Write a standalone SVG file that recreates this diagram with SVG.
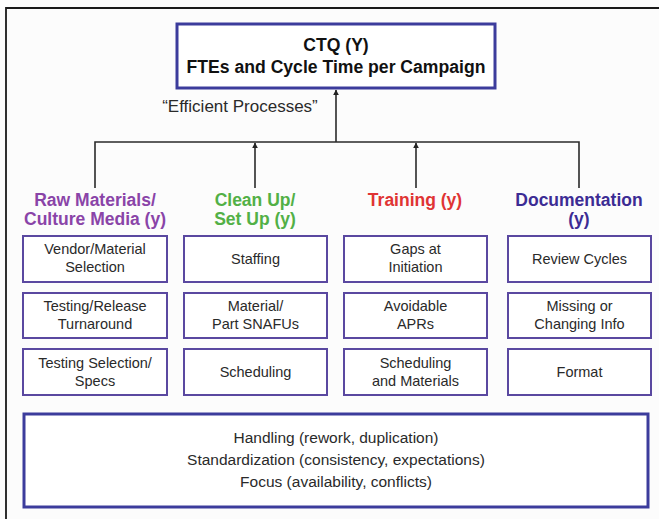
<svg xmlns="http://www.w3.org/2000/svg" width="659" height="519" viewBox="0 0 659 519">
<defs>
<marker id="ah" viewBox="0 0 10 10" refX="9" refY="5" markerWidth="6" markerHeight="7" markerUnits="userSpaceOnUse" orient="auto">
<path d="M0,0 L10,5 L0,10 z" fill="#222"/>
</marker>
<style>
.big{fill:#fff;stroke:#3c3c9c;stroke-width:3}
.sm{fill:#fff;stroke:#5a48a0;stroke-width:2}
.t{font-family:"Liberation Sans",Arial,sans-serif;text-anchor:middle;fill:#2a2a2a}
.st{font-size:14.5px}
.hd{font-size:17.5px;font-weight:bold}
.ln{stroke:#2a2a2a;stroke-width:1.6;fill:none}
</style>
</defs>
<rect x="0" y="0" width="659" height="519" fill="#fcfcfc"/>
<path d="M6,519 V8 H659" fill="none" stroke="#1a1a1a" stroke-width="1.8"/>

<g id="connectors">
<path class="ln" d="M95,188 V142 H579 V188"/>
<line class="ln" x1="336" y1="142" x2="336" y2="90" marker-end="url(#ah)"/>
<line class="ln" x1="255" y1="188" x2="255" y2="143" marker-end="url(#ah)"/>
<line class="ln" x1="416" y1="188" x2="416" y2="143" marker-end="url(#ah)"/>
</g>

<g id="ctq">
<rect class="big" x="177" y="24" width="318" height="64"/>
<text class="t" font-size="17.6" font-weight="bold" style="fill:#111"><tspan x="336" y="51">CTQ (Y)</tspan><tspan x="336" y="73">FTEs and Cycle Time per Campaign</tspan></text>
</g>
<g id="label-efficient">
<text class="t" font-size="17" x="240" y="112">“Efficient Processes”</text>
</g>

<g id="head-raw"><text class="t hd" style="fill:#8a44a8"><tspan x="95" y="206">Raw Materials/</tspan><tspan x="95" y="225">Culture Media (y)</tspan></text></g>
<g id="head-clean"><text class="t hd" style="fill:#52b046"><tspan x="255" y="206">Clean Up/</tspan><tspan x="255" y="225">Set Up (y)</tspan></text></g>
<g id="head-training"><text class="t hd" style="fill:#e03434"><tspan x="415" y="206">Training (y)</tspan></text></g>
<g id="head-doc"><text class="t hd" style="fill:#3c2c94"><tspan x="579" y="206">Documentation</tspan><tspan x="579" y="225">(y)</tspan></text></g>

<g id="raw-1"><rect class="sm" x="23" y="236" width="144" height="46"/><text class="t st"><tspan x="95" y="254">Vendor/Material</tspan><tspan x="95" y="272">Selection</tspan></text></g>
<g id="raw-2"><rect class="sm" x="23" y="293" width="144" height="45"/><text class="t st"><tspan x="95" y="311">Testing/Release</tspan><tspan x="95" y="329">Turnaround</tspan></text></g>
<g id="raw-3"><rect class="sm" x="23" y="349" width="144" height="46"/><text class="t st"><tspan x="95" y="368">Testing Selection/</tspan><tspan x="95" y="386">Specs</tspan></text></g>

<g id="clean-1"><rect class="sm" x="184" y="236" width="143" height="46"/><text class="t st" x="255.5" y="264">Staffing</text></g>
<g id="clean-2"><rect class="sm" x="184" y="293" width="143" height="45"/><text class="t st"><tspan x="255.5" y="311">Material/</tspan><tspan x="255.5" y="329">Part SNAFUs</tspan></text></g>
<g id="clean-3"><rect class="sm" x="184" y="349" width="143" height="46"/><text class="t st" x="255.5" y="377">Scheduling</text></g>

<g id="train-1"><rect class="sm" x="344" y="236" width="143" height="46"/><text class="t st"><tspan x="415.5" y="254">Gaps at</tspan><tspan x="415.5" y="272">Initiation</tspan></text></g>
<g id="train-2"><rect class="sm" x="344" y="293" width="143" height="45"/><text class="t st"><tspan x="415.5" y="311">Avoidable</tspan><tspan x="415.5" y="329">APRs</tspan></text></g>
<g id="train-3"><rect class="sm" x="344" y="349" width="143" height="46"/><text class="t st"><tspan x="415.5" y="368">Scheduling</tspan><tspan x="415.5" y="386">and Materials</tspan></text></g>

<g id="doc-1"><rect class="sm" x="508" y="236" width="143" height="46"/><text class="t st" x="579.5" y="264">Review Cycles</text></g>
<g id="doc-2"><rect class="sm" x="508" y="293" width="143" height="45"/><text class="t st"><tspan x="579.5" y="311">Missing or</tspan><tspan x="579.5" y="329">Changing Info</tspan></text></g>
<g id="doc-3"><rect class="sm" x="508" y="349" width="143" height="46"/><text class="t st" x="579.5" y="377">Format</text></g>

<g id="bottom">
<rect class="big" x="24" y="414" width="624" height="93"/>
<text class="t" font-size="15.5"><tspan x="336" y="443">Handling (rework, duplication)</tspan><tspan x="336" y="465">Standardization (consistency, expectations)</tspan><tspan x="336" y="487">Focus (availability, conflicts)</tspan></text>
</g>
</svg>
